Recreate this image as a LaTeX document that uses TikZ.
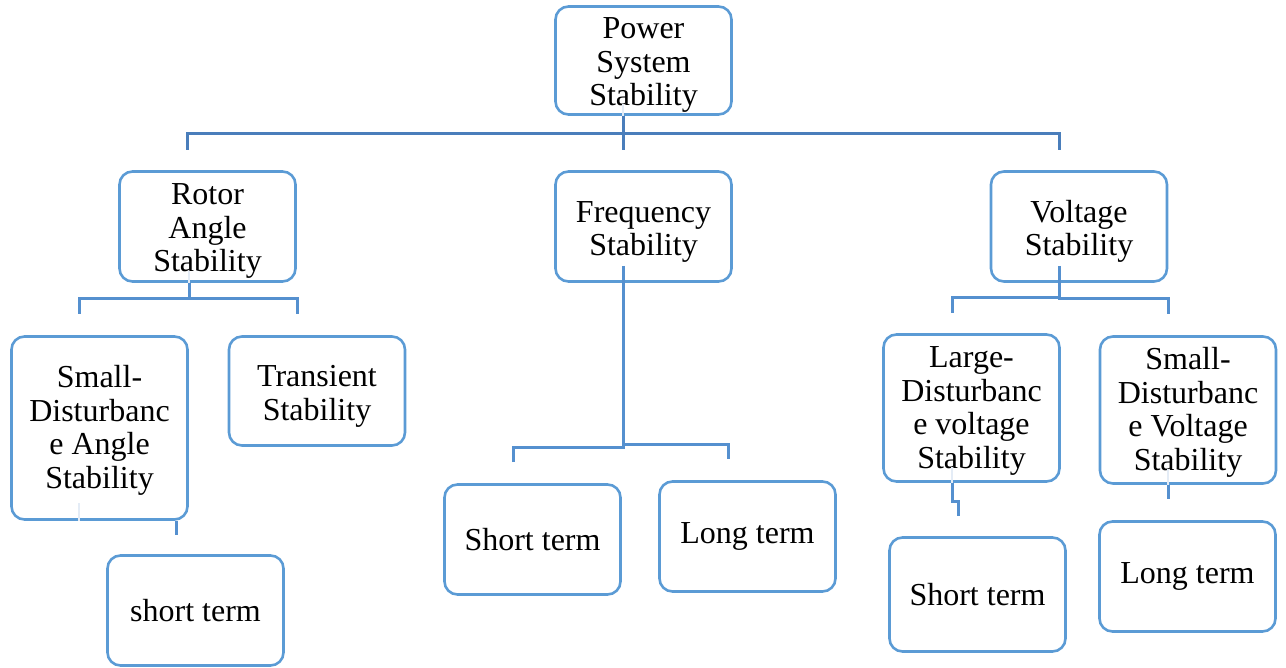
\documentclass[tikz,border=0pt]{standalone}
\usepackage{fontspec}
\setmainfont{Liberation Serif}
\usetikzlibrary{calc}

\definecolor{boxblue}{HTML}{5B9BD5}
\definecolor{busblue}{HTML}{4A7EBB}
\definecolor{linkblue}{HTML}{5590CF}
\definecolor{ghostblue}{HTML}{E4ECF6}

% taller first line, so that stacked labels sit a little lower in their box
\newcommand{\firstline}[1]{\rule{0pt}{#1}}

\tikzset{
  stbox/.style={draw=boxblue, line width=2.6pt, rounded corners=13pt, fill=white,
    inner sep=0pt, align=center, minimum width=176pt,
    font=\fontsize{32}{33.5}\selectfont},
  busline/.style={draw=busblue, line width=3pt},
  linkline/.style={draw=linkblue, line width=3pt},
  ghostline/.style={draw=ghostblue, line width=2pt},
}

\begin{document}
\begin{tikzpicture}[x=1pt, y=-1pt]
\useasboundingbox (0,0) rectangle (1286,668);

% ---- boxes ----
\node[stbox, minimum height=108pt] (pss)   at (643.5,60.5)  {\firstline{30pt}Power\\System\\Stability};
\node[stbox, minimum height=110pt] (rotor) at (207.5,226.5) {\firstline{30pt}Rotor\\Angle\\Stability};
\node[stbox, minimum height=110pt] (freq)  at (643.5,226.5) {\firstline{32pt}Frequency\\Stability};
\node[stbox, minimum height=110pt] (volt)  at (1079,226.5)  {\firstline{32pt}Voltage\\Stability};
\node[stbox, minimum height=183pt] (sda)   at (99.5,428)    {\firstline{27pt}Small-\\Disturbanc\\e Angle\\Stability};
\node[stbox, minimum height=109pt] (trans) at (317,391)     {\firstline{32pt}Transient\\Stability};
\node[stbox, minimum height=110pt] (fshort) at (532.5,539.5) {Short term};
\node[stbox, minimum height=110pt] (flong)  at (747.5,536.5) {Long term};
\node[stbox, minimum height=147pt] (ldv)   at (971.5,408)   {\firstline{27pt}Large-\\Disturbanc\\e voltage\\Stability};
\node[stbox, minimum height=147pt] (sdv)   at (1188,410)    {\firstline{27pt}Small-\\Disturbanc\\e Voltage\\Stability};
\node[stbox, minimum height=110pt] (ashort) at (195.5,610.5) {short term};
\node[stbox, minimum height=114pt] (vshort) at (977.5,594.5) {Short term};
\node[stbox, minimum height=110pt] (vlong)  at (1187.5,576.5) {Long term};

% ---- faint traces of the connectors behind the box fills ----
\draw[ghostline] (623,104) -- (pss.south -| 623,0);
\draw[ghostline] (189,271) -- (rotor.south -| 189,0);
\draw[ghostline] (79,503) -- (sda.south -| 79,0);
\draw[ghostline] (952,467) -- (ldv.south -| 952,0);
\draw[ghostline] (1168,469) -- (sdv.south -| 1168,0);

% ---- level 1: main bus ----
\coordinate (busM)   at (623,134);
\coordinate (stemT)  at (623,150);
\coordinate (rotTip) at (187,150);
\coordinate (busR)   at (1059,134);
\coordinate (volTip) at (1059,150);
\draw[busline] (pss.south -| busM) -- (stemT);
\draw[busline] (rotTip) |- (busR) -- (volTip);

% ---- rotor angle branch ----
\coordinate (rotJ)  at (189,298.5);
\coordinate (sdaTip) at (79,314);
\coordinate (trTip)  at (297,314);
\draw[linkline] (rotor.south -| rotJ) -- (rotJ);
\draw[linkline] (sdaTip) |- (rotJ) -| (trTip);

% ---- frequency branch ----
\coordinate (frTop)  at (623,266);
\coordinate (frJ)    at (623,445.5);
\coordinate (fsTip)  at (513,462);
\coordinate (flTip)  at (728,459);
\draw[linkline] (frTop) -- (frJ);
\draw[linkline] (fsTip) |- (623,447) -- (623,444) -| (flTip);

% ---- voltage branch ----
\coordinate (voTop)  at (1059,266);
\coordinate (voJ)    at (1059,298.5);
\coordinate (ldTip)  at (952,313);
\coordinate (sdTip)  at (1168,314);
\draw[linkline] (voTop) -- (voJ);
\draw[linkline] (ldTip) |- (1059,298) -- (1059,299) -| (sdTip);

% ---- short stems below the lower boxes ----
\coordinate (sdaStem) at (176,535);
\draw[linkline] (sda.south -| sdaStem) -- (sdaStem);
\coordinate (ldJog)  at (958,501);
\coordinate (ldStem) at (958,516);
\draw[linkline] (ldv.south -| 952,0) |- (ldJog) -- (ldStem);
\coordinate (sdvStem) at (1168,499);
\draw[linkline] (sdv.south -| sdvStem) -- (sdvStem);
\end{tikzpicture}
\end{document}
